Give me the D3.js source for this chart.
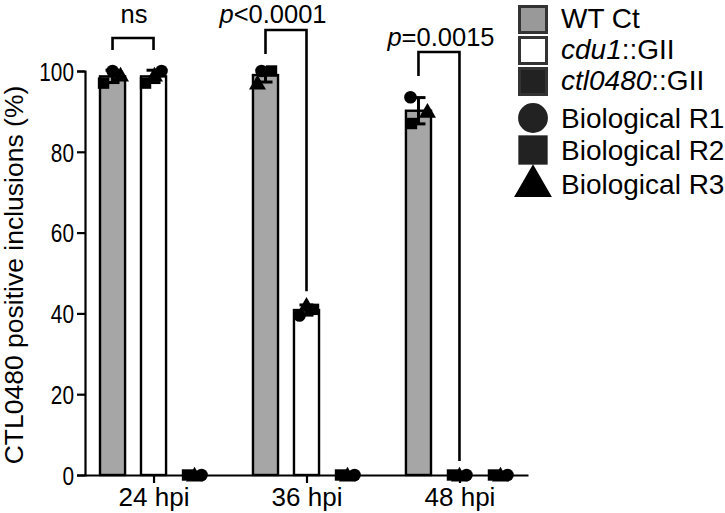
<!DOCTYPE html>
<html><head><meta charset="utf-8">
<script src="https://cdn.jsdelivr.net/npm/d3@7"></script>
<style>
html,body{margin:0;padding:0;background:#fff;}
text{font-family:"Liberation Sans",Arial,sans-serif;fill:#000;}
</style></head>
<body>
<svg id="c" width="725" height="513"></svg>
<script>
// ---- data ----
const groups = ["24 hpi", "36 hpi", "48 hpi"];
const series = ["WT Ct", "cdu1::GII", "ctl0480::GII"];
const replicates = ["Biological R1", "Biological R2", "Biological R3"];
// values per group, per series, per replicate [R1, R2, R3]
const wtValues   = [[100, 97, 99], [100, 100, 97], [93.5, 87, 90]];
const cdu1Values = [[100, 97, 99], [39.5, 41, 42], [0, 0, 0]];
const ctlValues  = [[0, 0, 0], [0, 0, 0], [0, 0, 0]];
const yTicks = [0, 20, 40, 60, 80, 100];
const comparisons = [
  {group: "24 hpi", label: "ns"},
  {group: "36 hpi", label: "p<0.0001"},
  {group: "48 hpi", label: "p=0.0015"}
];

// ---- layout / style ----
const colors = {"WT Ct": "#a6a6a6", "cdu1::GII": "#ffffff", "ctl0480::GII": "#1e1e1e"};
const legendFill = {"WT Ct": "#999999", "cdu1::GII": "#ffffff", "ctl0480::GII": "#222222"};
// horizontal jitter of replicate points (px), per group/series
const jitter = {
  "24 hpi|WT Ct": [0, -9, 8], "24 hpi|cdu1::GII": [8, -8, 1],
  "36 hpi|WT Ct": [-4, 6, -8], "36 hpi|cdu1::GII": [-7, 7, 0],
  "48 hpi|WT Ct": [-8, -7, 9]
};
const zeroJitter = [7, -7, 0];

const svg = d3.select("#c");
const y = d3.scaleLinear().domain([0, 100]).range([475, 71]);
const x = d3.scalePoint().domain(groups).range([85, 528]).padding(0.448);
const xs = d3.scaleBand().domain(series).range([-61.5, 61.5]).paddingInner(0.34).paddingOuter(0.17);

const valueTable = {"WT Ct": wtValues, "cdu1::GII": cdu1Values, "ctl0480::GII": ctlValues};
const rows = [];
groups.forEach((g, gi) => series.forEach(s => {
  const vals = valueTable[s][gi];
  const mean = d3.mean(vals);
  const sd = d3.deviation(vals) || 0;
  rows.push({g, s, vals, mean, sd});
}));

// axes
const yAxis = svg.append("g").attr("transform", "translate(85,0)")
  .call(d3.axisLeft(y).tickValues(yTicks).tickSize(8).tickPadding(3));
yAxis.select(".domain").attr("stroke", "#000").attr("stroke-width", 2.2);
yAxis.selectAll(".tick line").attr("stroke", "#000").attr("stroke-width", 2.2);
yAxis.selectAll(".tick text").attr("font-size", 26).attr("fill", "#000")
  .attr("x", 0).attr("transform", "translate(-11,0) scale(0.8,1)")
  .attr("dy", "0.36em");

const xAxis = svg.append("g").attr("transform", "translate(0,475)")
  .call(d3.axisBottom(x).tickSize(8).tickPadding(6).tickSizeOuter(0));
xAxis.select(".domain").attr("stroke", "#000").attr("stroke-width", 2.2);
xAxis.selectAll(".tick line").attr("stroke", "#000").attr("stroke-width", 2.2);
xAxis.selectAll(".tick text").attr("font-size", 26).attr("fill", "#000").attr("dy", "0.66em");

// y title
svg.append("text").attr("transform", "translate(23," + ((71 + 475) / 2 + 2) + ") rotate(-90)")
  .attr("text-anchor", "middle").attr("font-size", 26.5)
  .text("CTL0480 positive inclusions (%)");

// bars
const barG = svg.append("g");
rows.forEach(r => {
  if (r.mean <= 0) return;
  const bx = x(r.g) + xs(r.s);
  barG.append("rect").attr("x", bx + 1).attr("width", xs.bandwidth() - 2)
    .attr("y", y(r.mean)).attr("height", y(0) - y(r.mean))
    .attr("fill", colors[r.s]).attr("stroke", "#000").attr("stroke-width", 2.4);
});

// points
const shapes = [d3.symbolCircle, d3.symbolSquare, d3.symbolTriangle];
const sizes = [125, 130, 125];
const ptG = svg.append("g");
rows.forEach(r => {
  const cx = x(r.g) + xs(r.s) + xs.bandwidth() / 2;
  const jit = r.mean > 0 ? (jitter[r.g + "|" + r.s] || [0, 0, 0]) : zeroJitter;
  const order = [2, 1, 0];
  order.forEach(i => {
    ptG.append("path").attr("d", d3.symbol(shapes[i], sizes[i])())
      .attr("transform", `translate(${cx + jit[i]},${y(r.vals[i]) + (i === 2 ? 1.5 : 0)})`)
      .attr("fill", "#000");
  });
  // error bars (mean ± SD)
  if (r.sd > 0) {
    const eg = ptG.append("g").attr("stroke", "#000").attr("stroke-width", 3);
    eg.append("line").attr("x1", cx).attr("x2", cx).attr("y1", y(r.mean + r.sd)).attr("y2", y(r.mean - r.sd));
    [r.mean + r.sd, r.mean - r.sd].forEach(v =>
      eg.append("line").attr("x1", cx - 7).attr("x2", cx + 7).attr("y1", y(v)).attr("y2", y(v)));
  }
});

// significance brackets
const bracketTop = {"24 hpi": 38, "36 hpi": 30, "48 hpi": 52};
const textBase = {"24 hpi": 23, "36 hpi": 23, "48 hpi": 46};
const textShift = {"24 hpi": 1, "36 hpi": -13, "48 hpi": 2};
const brG = svg.append("g");
comparisons.forEach(c => {
  const wt = rows.find(r => r.g === c.group && r.s === "WT Ct");
  const cd = rows.find(r => r.g === c.group && r.s === "cdu1::GII");
  const x1 = x(c.group) + xs("WT Ct") + xs.bandwidth() / 2;
  const x2 = x(c.group) + xs("cdu1::GII") + xs.bandwidth() / 2;
  const top = bracketTop[c.group];
  const l1 = y(d3.max(wt.vals)) - 14;
  const l2 = y(d3.max(cd.vals)) - 14;
  const leftEnd = Math.min(l1, top + 24);
  const rightEnd = Math.min(l2, c.group === "24 hpi" ? top + 12 : 1000);
  brG.append("path")
    .attr("d", `M${x1},${c.group === "24 hpi" ? top + 12 : leftEnd}V${top}H${x2}V${rightEnd}`)
    .attr("fill", "none").attr("stroke", "#000").attr("stroke-width", 2.6);
  const t = brG.append("text").attr("x", (x1 + x2) / 2 + textShift[c.group]).attr("y", textBase[c.group])
    .attr("text-anchor", "middle").attr("font-size", 25.5);
  if (c.label.startsWith("p")) {
    t.append("tspan").attr("font-style", "italic").text("p");
    t.append("tspan").text(c.label.slice(1));
  } else t.text(c.label);
});

// legend
const lg = svg.append("g").attr("transform", "translate(518,0)");
const seriesRowY = [5, 36, 67];
series.forEach((s, i) => {
  lg.append("rect").attr("x", 1.5).attr("y", seriesRowY[i] + 1.5).attr("width", 27).attr("height", 26)
    .attr("fill", legendFill[s]).attr("stroke", "#333").attr("stroke-width", 3);
  const t = lg.append("text").attr("x", 43).attr("y", seriesRowY[i] + 23).attr("font-size", 28);
  const parts = s.split("::");
  if (parts.length > 1) {
    t.append("tspan").attr("font-style", "italic").text(parts[0]);
    t.append("tspan").text("::" + parts[1]);
  } else t.text(s);
});
const repRowY = [118, 150, 184];
const legSizes = [700, 860, 620];
replicates.forEach((rname, i) => {
  lg.append("path").attr("d", d3.symbol(shapes[i], legSizes[i])())
    .attr("transform", `translate(15,${repRowY[i] + (i === 2 ? 2 : 0)})`)
    .attr("fill", i === 2 ? "#000" : "#222");
  lg.append("text").attr("x", 43).attr("y", repRowY[i] + 10).attr("font-size", 28).text(rname);
});
</script>
</body></html>
